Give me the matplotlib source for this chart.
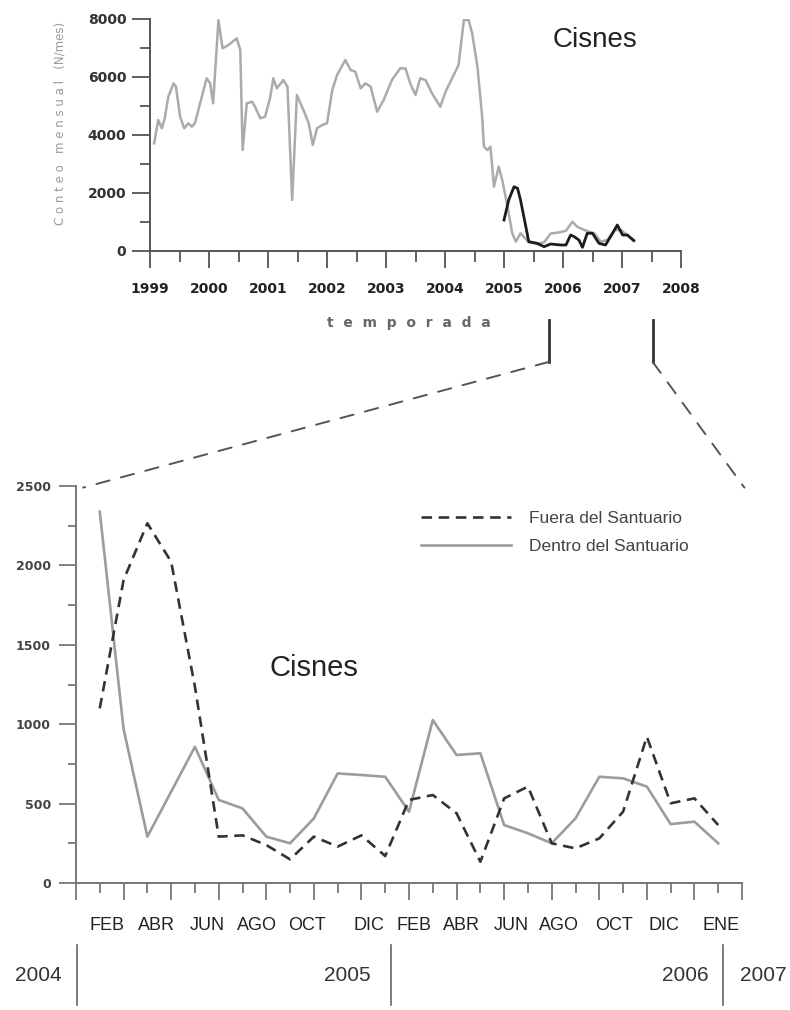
import numpy as np
import matplotlib
matplotlib.use("Agg")
import matplotlib.pyplot as plt
import matplotlib.transforms as mtransforms
from matplotlib.patches import ConnectionPatch
from matplotlib.ticker import MultipleLocator

# ---------------- data: monthly counts 1999-2007 (top panel) ----------------
total_years = [1999.07, 1999.14, 1999.20, 1999.25, 1999.31, 1999.40, 1999.44, 1999.51, 1999.58, 1999.65,
               1999.71, 1999.76, 1999.82, 1999.96, 2000.02, 2000.07, 2000.16, 2000.23, 2000.33, 2000.47,
               2000.53, 2000.57, 2000.64, 2000.73, 2000.78, 2000.87, 2000.95, 2001.04, 2001.09, 2001.15,
               2001.26, 2001.33, 2001.41, 2001.49, 2001.60, 2001.69, 2001.76, 2001.83, 2001.92, 2002.00,
               2002.09, 2002.17, 2002.31, 2002.40, 2002.48, 2002.57, 2002.65, 2002.74, 2002.85, 2002.96,
               2003.10, 2003.24, 2003.33, 2003.41, 2003.50, 2003.58, 2003.67, 2003.78, 2003.92, 2004.01,
               2004.12, 2004.23, 2004.32, 2004.40, 2004.46, 2004.55, 2004.63, 2004.66, 2004.72, 2004.77,
               2004.83, 2004.91, 2004.97, 2005.06, 2005.14, 2005.20, 2005.28, 2005.42, 2005.56, 2005.68,
               2005.79, 2005.96, 2006.05, 2006.16, 2006.24, 2006.36, 2006.53, 2006.64, 2006.75, 2006.87,
               2006.98, 2007.12, 2007.20]
total_counts = [3713, 4517, 4230, 4575, 5320, 5782, 5665, 4630, 4230, 4403,
                4287, 4403, 4862, 5955, 5782, 5093, 7965, 6989, 7103, 7334,
                6930, 3483, 5093, 5150, 4975, 4575, 4630, 5320, 5955, 5610,
                5896, 5665, 1758, 5379, 4862, 4403, 3655, 4230, 4345, 4403,
                5551, 6068, 6586, 6241, 6183, 5610, 5782, 5665, 4803, 5206,
                5896, 6299, 6299, 5782, 5379, 5955, 5896, 5436, 4975, 5494,
                5955, 6413, 7965, 7965, 7506, 6355, 4630, 3597, 3482, 3597,
                2217, 2907, 2448, 1527, 610, 322, 610, 300, 250, 300,
                600, 650, 700, 1011, 838, 724, 610, 322, 379, 724,
                724, 494, 379]

recent_years = [2005.00, 2005.08, 2005.17, 2005.23, 2005.28, 2005.37, 2005.42, 2005.56, 2005.68, 2005.79,
                2005.96, 2006.05, 2006.13, 2006.19, 2006.27, 2006.33, 2006.41, 2006.50, 2006.61, 2006.72,
                2006.84, 2006.92, 2007.01, 2007.09, 2007.20]
recent_counts = [1069, 1758, 2217, 2160, 1758, 838, 322, 264, 149, 241,
                 207, 207, 552, 494, 379, 126, 610, 610, 264, 207,
                 610, 897, 552, 552, 356]

year_ticks = list(range(1999, 2009))
zoom_range = (2005.76, 2007.52)

# ---------------- data: detail (bottom panel), month index ----------------
month_idx = np.arange(1, 28)
fuera = [1100, 1908, 2265, 2023, 1236, 292, 300, 239, 149, 292, 229, 300, 170,
         523, 554, 439, 134, 533, 607, 250, 218, 281, 449, 921, 502, 533, 365]
dentro = [2338, 970, 292, 575, 858, 523, 470, 292, 250, 407, 690, 680, 669,
          449, 1026, 806, 817, 365, 313, 250, 407, 669, 659, 607, 371, 386, 250]

month_labels = ["FEB", "ABR", "JUN", "AGO", "OCT", "DIC", "FEB", "ABR", "JUN", "AGO", "OCT", "DIC", "ENE"]
month_label_pos = [1.3, 3.4, 5.5, 7.6, 9.7, 12.3, 14.2, 16.2, 18.3, 20.3, 22.6, 24.7, 27.1]

season_labels = ["2004", "2005", "2006", "2007"]
season_label_pos = [-0.6, 12.4, 26.6, 27.9]
season_label_ha = ["right", "right", "right", "left"]
season_breaks = [0.05, 13.26, 27.2]

W, H = 790, 1010
fig = plt.figure(figsize=(W / 100, H / 100), dpi=100)

# ---------------- top panel ----------------
ax1 = fig.add_axes([150 / W, 1 - 251 / H, 531 / W, 232 / H])
ax1.plot(total_years, total_counts, color="#ababab", lw=1.8, zorder=2)
ax1.plot(recent_years, recent_counts, color="#1c1c1c", lw=2.0, zorder=3)
ax1.set_xlim(1999, 2008)
ax1.set_ylim(0, 8000)
for s in ["top", "right"]:
    ax1.spines[s].set_visible(False)
for s in ["left", "bottom"]:
    ax1.spines[s].set_color("#555555")
    ax1.spines[s].set_linewidth(1.4)
ax1.set_xticks(year_ticks)
ax1.set_xticklabels([str(y) for y in year_ticks], fontsize=10, fontweight="bold", color="#222222")
ax1.xaxis.set_minor_locator(MultipleLocator(0.5))
ax1.set_yticks([0, 2000, 4000, 6000, 8000])
ax1.set_yticklabels(["0", "2000", "4000", "6000", "8000"], fontsize=10, fontweight="bold", color="#333333")
ax1.yaxis.set_minor_locator(MultipleLocator(1000))
ax1.tick_params(axis="x", which="major", direction="out", length=12, width=1.3, color="#555555", pad=10)
ax1.tick_params(axis="x", which="minor", direction="out", length=8, width=1.3, color="#555555")
ax1.tick_params(axis="y", which="major", direction="out", length=13, width=1.3, color="#555555", pad=4)
ax1.tick_params(axis="y", which="minor", direction="out", length=7, width=1.3, color="#555555")
ax1.text(2006.54, 7275, "Cisnes", fontsize=20, family="Liberation Sans", color="#222222",
         ha="center", va="center")
ax1.text(-0.17, 0.55, "C o n t e o   m e n s u a l   (N/mes)", transform=ax1.transAxes,
         rotation=90, fontsize=8.5, color="#9a9a9a", ha="center", va="center")
ax1.text(0.487, -0.31, "t  e  m  p  o  r  a  d  a", transform=ax1.transAxes,
         fontsize=10, fontweight="bold", color="#666666", ha="center", va="center")

# zoom markers below the top axis
trans1 = mtransforms.blended_transform_factory(ax1.transData, ax1.transAxes)
for zx in zoom_range:
    ax1.plot([zx, zx], [-0.297, -0.478], transform=trans1, color="#333333", lw=2, clip_on=False)

# ---------------- bottom panel ----------------
ax2 = fig.add_axes([76 / W, 1 - 883 / H, 666 / W, 397 / H])
ax2.plot(month_idx, fuera, color="#333333", lw=1.9, linestyle=(0, (4, 2.5)),
         label="Fuera del Santuario", zorder=3)
ax2.plot(month_idx, dentro, color="#9c9c9c", lw=1.9, label="Dentro del Santuario", zorder=2)
ax2.set_xlim(0, 28)
ax2.set_ylim(0, 2500)
for s in ["top", "right"]:
    ax2.spines[s].set_visible(False)
for s in ["left", "bottom"]:
    ax2.spines[s].set_color("#777777")
    ax2.spines[s].set_linewidth(1.4)
ax2.set_yticks(np.arange(0, 2501, 500))
ax2.set_yticklabels([str(v) for v in range(0, 2501, 500)], fontsize=9, fontweight="bold", color="#444444")
ax2.yaxis.set_minor_locator(MultipleLocator(250))
ax2.xaxis.set_major_locator(MultipleLocator(2))
ax2.xaxis.set_minor_locator(MultipleLocator(1))
ax2.set_xticklabels([])
ax2.tick_params(axis="y", which="major", direction="out", length=12, width=1.3, color="#777777", pad=6)
ax2.tick_params(axis="y", which="minor", direction="out", length=6, width=1.3, color="#777777")
ax2.tick_params(axis="x", which="major", direction="out", length=12, width=1.3, color="#777777")
ax2.tick_params(axis="x", which="minor", direction="out", length=7, width=1.3, color="#777777")

trans2 = mtransforms.blended_transform_factory(ax2.transData, ax2.transAxes)
for lab, pos in zip(month_labels, month_label_pos):
    ax2.text(pos, -0.108, lab, transform=trans2, fontsize=13, family="Liberation Sans",
             color="#222222", ha="center", va="center")
for lab, pos, ha in zip(season_labels, season_label_pos, season_label_ha):
    ax2.text(pos, -0.232, lab, transform=trans2, fontsize=15, family="Liberation Sans",
             color="#333333", ha=ha, va="center")
for xb in season_breaks:
    ax2.plot([xb, xb], [-0.156, -0.307], transform=trans2, color="#666666", lw=1.2, clip_on=False)

ax2.text(10.0, 1354, "Cisnes", fontsize=21, family="Liberation Sans", color="#222222",
         ha="center", va="center")

leg = ax2.legend(loc="upper left", bbox_to_anchor=(0.505, 0.96), frameon=False,
                 prop={"family": "Liberation Sans", "size": 12.5}, handlelength=5.2,
                 handletextpad=1.0, labelspacing=0.75, borderpad=0)
for t in leg.get_texts():
    t.set_color("#444444")

# dashed zoom connectors
for xa, xb in zip(zoom_range, (0.3, 28.1)):
    cp = ConnectionPatch(xyA=(xa, -0.478), coordsA=trans1, xyB=(xb, 2490), coordsB=ax2.transData,
                         color="#555555", lw=1.4, linestyle=(0, (7, 6)))
    fig.add_artist(cp)

fig.savefig("out.png", dpi=100)
